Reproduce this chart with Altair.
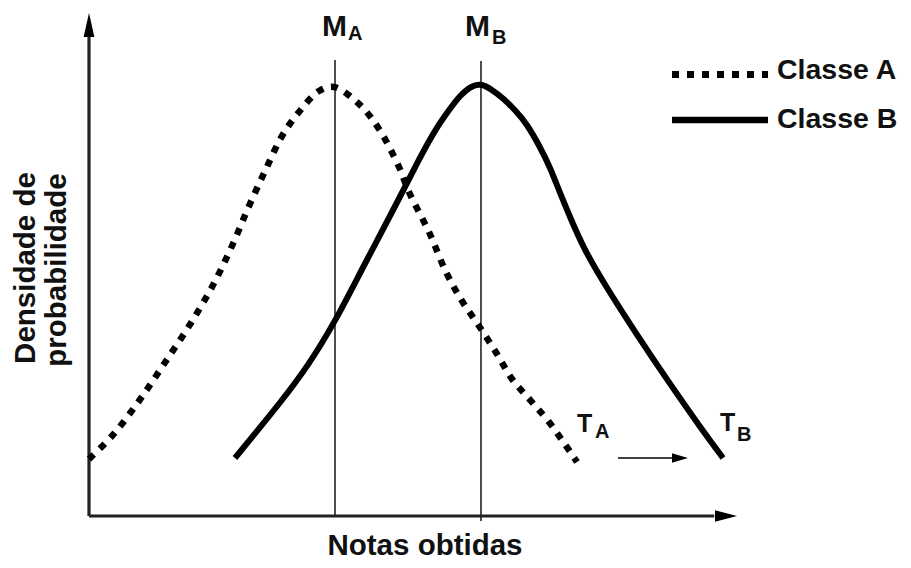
import altair as alt
import pandas as pd

# ---- data (x: notas, y: densidade) ----
a_x = [0.0, 0.383, 0.833, 1.25, 1.667, 2.05, 2.383, 2.667, 2.95, 3.217, 3.5, 3.833, 4.083,
       4.5, 4.833, 5.167, 5.333, 5.667, 5.95, 6.217, 6.5, 6.8, 7.05, 7.367, 7.667, 8.133]
a_y = [1.14, 1.60, 2.30, 3.04, 3.80, 4.58, 5.40, 6.20, 6.94, 7.60, 8.08, 8.50, 8.58,
       8.24, 7.74, 6.98, 6.48, 5.68, 4.88, 4.30, 3.80, 3.24, 2.74, 2.30, 1.88, 1.08]

b_x = [2.433, 2.8, 3.183, 3.65, 4.1, 4.567, 5.133, 5.517, 5.8, 5.967, 6.183, 6.4, 6.55,
       6.7, 6.9, 7.1, 7.3, 7.517, 7.683, 7.85, 8.017, 8.233, 8.567, 9.133, 9.683, 10.233, 10.567]
b_y = [1.16, 1.70, 2.26, 3.0, 3.88, 4.98, 6.26, 7.18, 7.78, 8.06, 8.42, 8.62, 8.64,
       8.54, 8.36, 8.12, 7.84, 7.38, 6.98, 6.46, 5.98, 5.38, 4.68, 3.62, 2.64, 1.70, 1.16]

# means (vertical reference lines)
m_x = [4.1, 6.533]
m_y0 = [0.0, -0.1]
m_y1 = [9.12, 9.1]

# axis frame
axis_x_end = 10.42
axis_y_end = 9.6
x_tip = 10.8
y_tip = 10.06

# big letters (M, T) and subscripts
big_text = ["M", "M", "T", "T"]
big_x = [3.883, 6.267, 8.133, 10.517]
big_y = [9.6, 9.6, 1.68, 1.70]
big_size = [30, 30, 25, 25]
sub_text = ["A", "B", "A", "B"]
sub_x = [4.317, 6.717, 8.433, 10.8]
sub_y = [9.52, 9.44, 1.56, 1.50]
sub_size = [20, 20, 20, 20]

# small arrow T_A -> T_B
arr_x0, arr_x1, arr_tip, arr_y = 8.817, 9.75, 9.983, 1.16

# legend
leg_labels = ["Classe A", "Classe B"]
leg_x0, leg_x1 = 9.717, 11.317
leg_line_y = [8.83, 7.92]
leg_text_x = 11.467
leg_text_y = [8.74, 7.76]

FONT = "Liberation Sans"
TITLE_SIZE = 29.5
xs = alt.Scale(domain=[0, 10.75], nice=False, zero=False)
ys = alt.Scale(domain=[0, 10.16], nice=False, zero=False)
X = lambda f: alt.X(f, type="quantitative", scale=xs, axis=None)
Y = lambda f: alt.Y(f, type="quantitative", scale=ys, axis=None)

df_a = pd.DataFrame({"x": a_x, "y": a_y})
df_b = pd.DataFrame({"x": b_x, "y": b_y})

curve_a = alt.Chart(df_a).mark_line(
    color="black", strokeWidth=6.5, strokeDash=[7, 8], strokeCap="butt",
    interpolate="catmull-rom").encode(x=X("x"), y=Y("y"))
curve_b = alt.Chart(df_b).mark_line(
    color="black", strokeWidth=6, strokeCap="butt",
    interpolate="basis").encode(x=X("x"), y=Y("y"))

df_m = pd.DataFrame({"x": m_x, "y0": m_y0, "y1": m_y1})
mean_lines = alt.Chart(df_m).mark_rule(color="#222", strokeWidth=1.6).encode(
    x=X("x"), y=Y("y0"), y2="y1")

df_xax = pd.DataFrame({"x0": [0.0], "x1": [axis_x_end], "y": [0.0]})
x_axis = alt.Chart(df_xax).mark_rule(color="#222", strokeWidth=3.2).encode(
    x=X("x0"), x2="x1", y=Y("y"))
df_yax = pd.DataFrame({"x": [0.0], "y0": [0.0], "y1": [axis_y_end]})
y_axis = alt.Chart(df_yax).mark_rule(color="#222", strokeWidth=3.2).encode(
    x=X("x"), y=Y("y0"), y2="y1")

up_head = alt.Chart(pd.DataFrame({"x": [0.0], "y": [y_tip]})).mark_point(
    shape="M0,0L-0.45,2L0.45,2Z", size=576, filled=True, color="black",
    opacity=1, strokeWidth=0).encode(x=X("x"), y=Y("y"))
right_head = alt.Chart(pd.DataFrame({"x": [x_tip], "y": [0.0]})).mark_point(
    shape="M0,0L-2,-0.52L-2,0.52Z", size=484, filled=True, color="black",
    opacity=1, strokeWidth=0).encode(x=X("x"), y=Y("y"))

df_arr = pd.DataFrame({"x0": [arr_x0], "x1": [arr_x1], "y": [arr_y]})
small_arrow = alt.Chart(df_arr).mark_rule(color="black", strokeWidth=1.6).encode(
    x=X("x0"), x2="x1", y=Y("y"))
small_head = alt.Chart(pd.DataFrame({"x": [arr_tip], "y": [arr_y]})).mark_point(
    shape="M0,0L-2,-0.6L-2,0.6Z", size=256, filled=True, color="black",
    opacity=1, strokeWidth=0).encode(x=X("x"), y=Y("y"))

df_big = pd.DataFrame({"t": big_text, "x": big_x, "y": big_y, "s": big_size})
big = alt.Chart(df_big).mark_text(
    font=FONT, fontWeight="bold", align="left", baseline="alphabetic", color="#111").encode(
    x=X("x"), y=Y("y"), text="t:N", size=alt.Size("s:Q", scale=None, legend=None))
df_sub = pd.DataFrame({"t": sub_text, "x": sub_x, "y": sub_y, "s": sub_size})
sub = alt.Chart(df_sub).mark_text(
    font=FONT, fontWeight="bold", align="left", baseline="alphabetic", color="#111").encode(
    x=X("x"), y=Y("y"), text="t:N", size=alt.Size("s:Q", scale=None, legend=None))

df_leg_a = pd.DataFrame({"x0": [leg_x0], "x1": [leg_x1], "y": [leg_line_y[0]]})
leg_a = alt.Chart(df_leg_a).mark_rule(
    color="black", strokeWidth=7, strokeDash=[7, 8], strokeCap="butt").encode(
    x=X("x0"), x2="x1", y=Y("y"))
df_leg_b = pd.DataFrame({"x0": [leg_x0], "x1": [leg_x1], "y": [leg_line_y[1]]})
leg_b = alt.Chart(df_leg_b).mark_rule(
    color="black", strokeWidth=6.5, strokeCap="butt").encode(
    x=X("x0"), x2="x1", y=Y("y"))
df_leg_t = pd.DataFrame({"t": leg_labels, "x": [leg_text_x] * 2, "y": leg_text_y})
leg_t = alt.Chart(df_leg_t).mark_text(
    font=FONT, fontWeight="bold", fontSize=28.5, align="left", baseline="alphabetic",
    color="#111").encode(x=X("x"), y=Y("y"), text="t:N")

df_xt = pd.DataFrame({"t": ["Notas obtidas"], "x": [5.6], "y": [-0.78]})
x_title = alt.Chart(df_xt).mark_text(
    font=FONT, fontWeight="bold", fontSize=TITLE_SIZE, align="center", baseline="alphabetic",
    color="#111").encode(x=X("x"), y=Y("y"), text="t:N")
df_yt = pd.DataFrame({"t": ["Densidade de", "probabilidade"],
                      "x": [-0.9, -0.39], "y": [4.96, 4.92]})
y_title = alt.Chart(df_yt).mark_text(
    font=FONT, fontWeight="bold", fontSize=TITLE_SIZE, align="center", baseline="alphabetic",
    angle=270, color="#111").encode(x=X("x"), y=Y("y"), text="t:N")

chart = alt.layer(
    mean_lines, x_axis, y_axis, up_head, right_head, curve_a, curve_b,
    small_arrow, small_head, big, sub, leg_a, leg_b, leg_t, x_title, y_title
).properties(
    width=645, height=508,
    padding={"left": 81, "top": 0, "right": 169, "bottom": 44},
    autosize=alt.AutoSizeParams(type="none"),
).configure(background="white").configure_view(stroke="transparent", strokeWidth=0)

chart.save("out.html", embed_options={"renderer": "svg", "actions": False})
